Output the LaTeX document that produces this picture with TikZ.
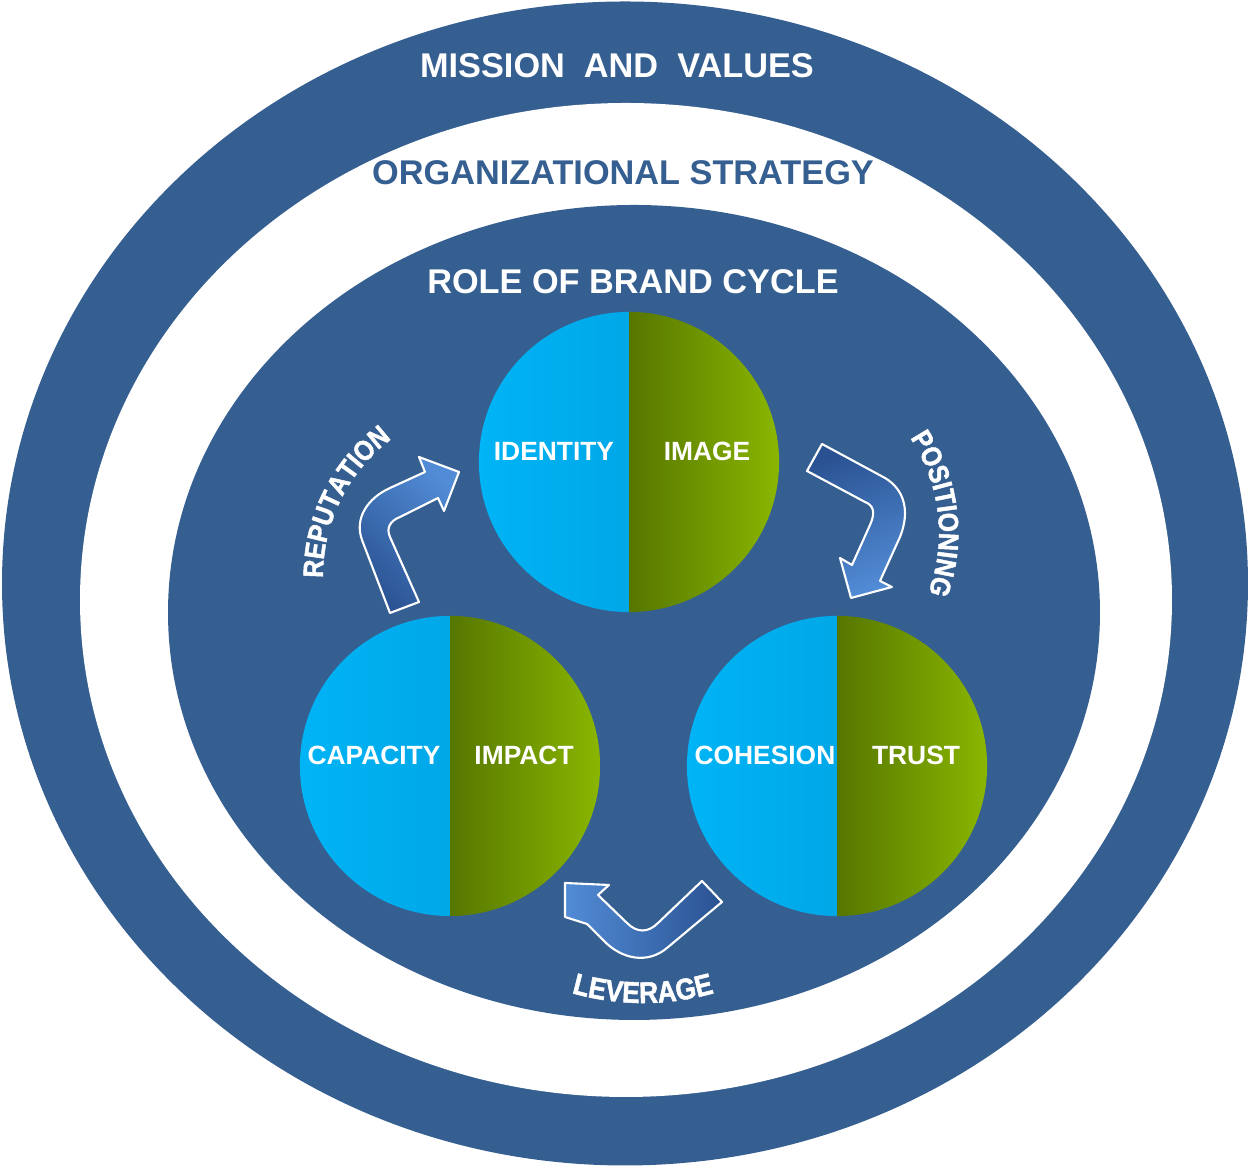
\documentclass[tikz,border=0pt]{standalone}
\usepackage{fontspec}
\setmainfont{Liberation Sans}
\newfontfamily\heavy{Liberation Sans}[BoldFeatures={FakeBold=1.6, FakeStretch=0.88}]
\usetikzlibrary{decorations.text}
\definecolor{navy}{RGB}{54,95,145}
\definecolor{skyL}{RGB}{0,180,245}
\definecolor{skyR}{RGB}{0,155,218}
\definecolor{oliveL}{RGB}{86,118,0}
\definecolor{oliveR}{RGB}{138,182,0}
\definecolor{arrowD}{RGB}{42,82,146}
\definecolor{arrowL}{RGB}{82,140,214}

\begin{document}
\begin{tikzpicture}[x=0.01cm, y=0.01cm,
    ring/.style={font=\fontsize{9.75}{11}\selectfont\bfseries, inner sep=0pt},
    lbl/.style={text=white, font=\fontsize{7.5}{9}\selectfont\bfseries, inner sep=0pt},
    disc/.style={circle, minimum size=3cm, inner sep=0pt, path picture={
        \shade[left color=skyL, right color=skyR] (path picture bounding box.south west) rectangle (path picture bounding box.north);
        \shade[left color=oliveL, right color=oliveR] (path picture bounding box.south) rectangle (path picture bounding box.north east);}},
    bent/.style={draw=white, line width=0.6pt, line join=round},
    curvetext/.style 2 args={decorate, decoration={text along path, text align=center, text color=white,
        text={|\heavy\fontsize{#1}{10}\selectfont\bfseries|#2}}}]
    \useasboundingbox (0,0) rectangle (1250,1167);
    % rings
    \fill[navy] (625,583.5) ellipse [x radius=623, y radius=582];
    \fill[white] (626,567) ellipse [x radius=546, y radius=497];
    \fill[navy] (634,554.5) ellipse [x radius=466, y radius=407.5];
    \node[ring, text=white] (mission) at (617,1101) {MISSION\ \ AND\ \ VALUES};
    \node[ring, text=navy] (strategy) at (623,994) {ORGANIZATIONAL STRATEGY};
    \node[ring, text=white] (cycle) at (633,885) {ROLE OF BRAND CYCLE};
    % the three discs
    \node[disc] (topdisc) at (629,705) {};
    \node[disc] (leftdisc) at (450,401) {};
    \node[disc] (rightdisc) at (837,401) {};
    \node[lbl] (identity) at ([xshift=-0.75cm, yshift=0.11cm]topdisc.center) {IDENTITY};
    \node[lbl] (image) at ([xshift=0.78cm, yshift=0.11cm]topdisc.center) {IMAGE};
    \node[lbl] (capacity) at ([xshift=-0.76cm, yshift=0.11cm]leftdisc.center) {CAPACITY};
    \node[lbl] (impact) at ([xshift=0.74cm, yshift=0.11cm]leftdisc.center) {IMPACT};
    \node[lbl] (cohesion) at ([xshift=-0.72cm, yshift=0.11cm]rightdisc.center) {COHESION};
    \node[lbl] (trust) at ([xshift=0.79cm, yshift=0.11cm]rightdisc.center) {TRUST};
    % bent arrows
    \shadedraw[bent, bottom color=arrowD, top color=arrowL, shading angle=-45]
        (390,554) -- (362,627) .. controls (354,649) and (368,669) .. (390,679) -- (425,695) -- (419,710)
        -- (459,695) -- (444,656) -- (438,669) -- (400,650) .. controls (390,646) and (386,639) .. (390,630)
        -- (419,565) -- cycle;
    \shadedraw[bent, top color=arrowD, bottom color=arrowL, shading angle=20]
        (822,723) -- (885,689) .. controls (905,677) and (910,655) .. (900,630) -- (880,586) -- (892,580)
        -- (851,569) -- (840,609) -- (852,602) -- (870,642) .. controls (876,655) and (873,662) .. (865,665)
        -- (807,696) -- cycle;
    \shadedraw[bent, left color=arrowL, right color=arrowD]
        (702,286) -- (722,265) -- (667,219) .. controls (648,203) and (622,207) .. (603,227) -- (587,243)
        -- (565,250) -- (565,284) -- (609,282) -- (598,272) -- (627,244) .. controls (637,234) and (648,234) .. (658,244)
        -- cycle;
    % curved words
    \path[curvetext={8}{REPUTATION}] ([shift={(494,591)}]188.7:171) arc[start angle=188.7, end angle=118.7, radius=171];
    \path[curvetext={8}{POSITIONING}] ([shift={(768,634)}]41.6:171) arc[start angle=41.6, end angle=-28.4, radius=171];
    \path[curvetext={8.5}{LEVERAGE}] ([shift={(643,424)}]-110:260) arc[start angle=-110, end angle=-70, radius=260];
\end{tikzpicture}
\end{document}
